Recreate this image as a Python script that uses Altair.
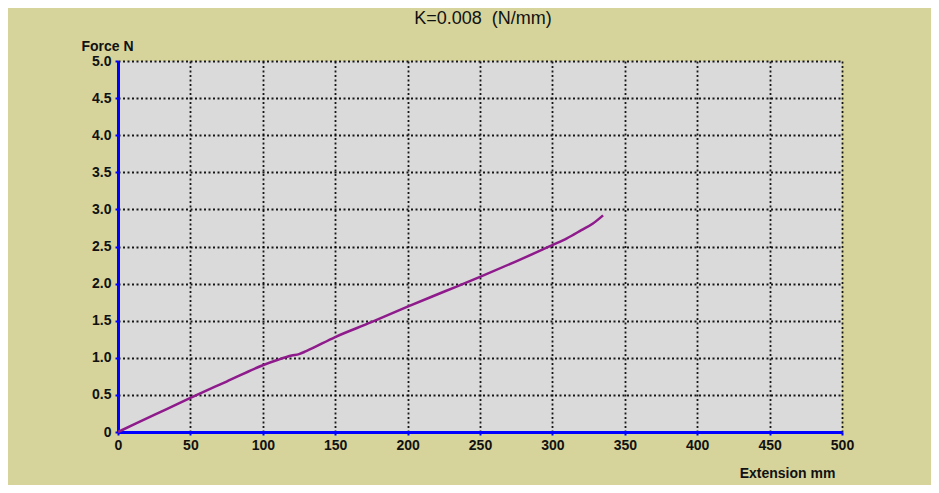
import altair as alt
import pandas as pd

extension = [0, 25, 50, 75, 100, 110, 120, 125, 130, 150, 175, 200, 225, 250, 275, 290, 300, 310, 320, 328, 335]
force = [0, 0.23, 0.46, 0.68, 0.90, 0.97, 1.03, 1.05, 1.09, 1.28, 1.48, 1.69, 1.89, 2.09, 2.30, 2.43, 2.52, 2.61, 2.72, 2.81, 2.92]
x_ticks = [0, 50, 100, 150, 200, 250, 300, 350, 400, 450, 500]
y_ticks = [0, 0.5, 1.0, 1.5, 2.0, 2.5, 3.0, 3.5, 4.0, 4.5, 5.0]

df = pd.DataFrame({"ext": extension, "force": force})

FONT = "Liberation Sans, Arial"

x_axis = alt.Axis(
    values=x_ticks, title="Extension mm", grid=True, gridColor="#000000",
    gridDash=[2, 2.5], gridWidth=1.8, gridOpacity=0.9,
    domainColor="#0000ff", domainWidth=3, tickColor="#0000ff", tickSize=3, tickWidth=2,
    labelFont=FONT, labelFontWeight="bold", labelFontSize=14, labelColor="#111111",
    labelPadding=3, titleFont=FONT, titleFontWeight="bold", titleFontSize=14,
    titleColor="#111111", titleX=669, titleY=41, titleAlign="center",
    titleBaseline="middle", labelFlush=False,
)
y_axis = alt.Axis(
    values=y_ticks, title="Force N", grid=True, gridColor="#000000",
    gridDash=[2, 2.5], gridWidth=1.8, gridOpacity=0.9,
    domainColor="#0000ff", domainWidth=3, tickColor="#0000ff", tickSize=3, tickWidth=2,
    labelFont=FONT, labelFontWeight="bold", labelFontSize=14, labelColor="#111111",
    labelPadding=4, labelExpr="datum.value == 0 ? '0' : format(datum.value, '.1f')",
    titleFont=FONT, titleFontWeight="bold", titleFontSize=14, titleColor="#111111",
    titleAngle=0, titleX=-37, titleY=-15, titleAlign="left", titleBaseline="middle",
    labelFlush=False,
)

line = alt.Chart(df).mark_line(color="#8e1a8c", strokeWidth=2.5, interpolate="monotone").encode(
    x=alt.X("ext:Q", scale=alt.Scale(domain=[0, 500], nice=False), axis=x_axis),
    y=alt.Y("force:Q", scale=alt.Scale(domain=[0, 5], nice=False), axis=y_axis),
)

chart = line.properties(
    width=724, height=371,
    autosize=alt.AutoSizeParams(type="none"),
    padding={"left": 110, "top": 53, "right": 89, "bottom": 53},
    title=alt.TitleParams("K=0.008\u00a0\u00a0(N/mm)", font="Liberation Sans, Arial", fontSize=18,
                          fontWeight=500, color="#111111", anchor="middle",
                          offset=11, dx=3),
).configure(background="#d6d49a").configure_view(fill="#dadada", stroke=None)

chart.save("out.html", embed_options={"renderer": "svg", "actions": False})
